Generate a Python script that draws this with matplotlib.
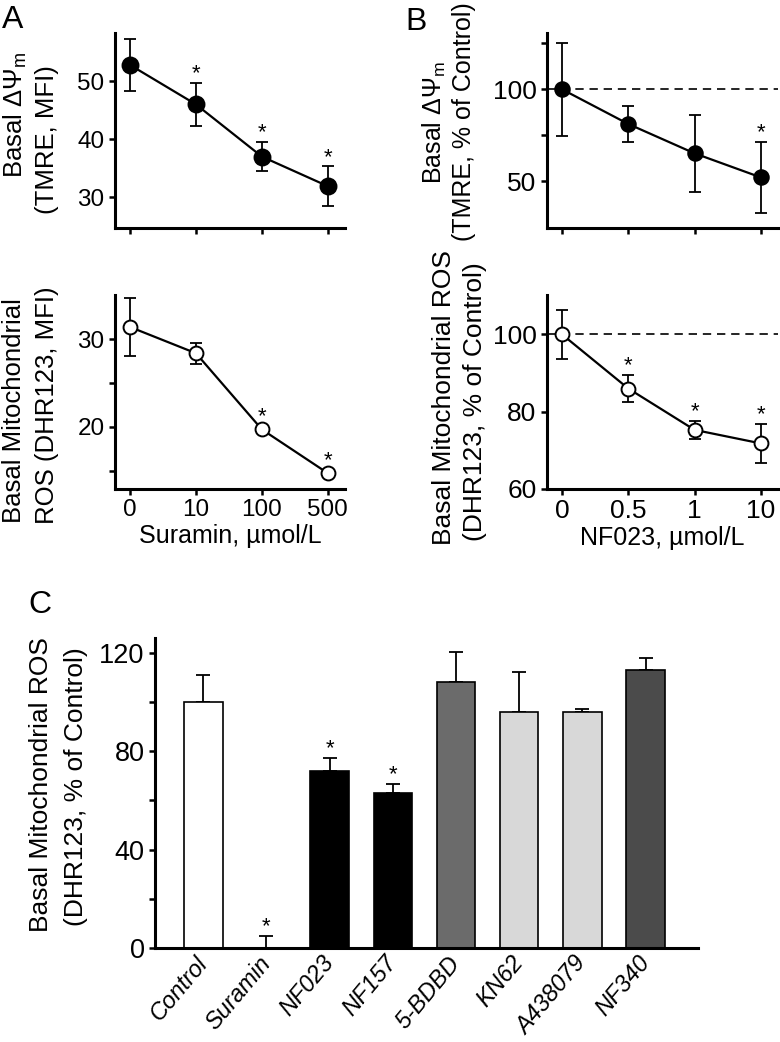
import numpy as np
import matplotlib
matplotlib.use("Agg")
import matplotlib.pyplot as plt

plt.rcParams['font.family'] = ['Liberation Sans', 'DejaVu Sans']
plt.rcParams['mathtext.fontset'] = 'custom'
plt.rcParams['mathtext.rm'] = 'Liberation Sans'
plt.rcParams['mathtext.it'] = 'Liberation Sans:italic'

# Panel A: suramin dose response
suramin_doses = ['0', '10', '100', '500']
a_tmre = [52.8, 46.0, 37.0, 31.9]
a_tmre_err = [4.5, 3.7, 2.5, 3.4]
a_tmre_sig = [False, True, True, True]
a_ros = [31.4, 28.4, 19.7, 14.7]
a_ros_err = [3.3, 1.2, 0.4, 0.4]
a_ros_sig = [False, False, True, True]

# Panel B: NF023 dose response (% of control)
nf023_doses = ['0', '0.5', '1', '10']
b_tmre = [100, 81.1, 65.1, 52.0]
b_tmre_err = [25.5, 10.0, 21.0, 19.4]
b_tmre_sig = [False, False, False, True]
b_ros = [100, 86.0, 75.3, 71.8]
b_ros_err = [6.4, 3.6, 2.4, 5.0]
b_ros_sig = [False, True, True, True]

# Panel C: antagonists
c_labels = ['Control', 'Suramin', 'NF023', 'NF157', '5-BDBD', 'KN62', 'A438079', 'NF340']
c_values = [100, 0, 72.0, 62.9, 108.3, 96.0, 96.0, 112.9]
c_err = [11.0, 5.0, 5.3, 3.8, 12.0, 16.3, 1.4, 5.0]
c_sig = [False, True, True, True, False, False, False, False]
c_colors = ['white', 'white', 'black', 'black', '#6b6b6b', '#d8d8d8', '#d8d8d8', '#4b4b4b']

W, H = 780, 1042
fig = plt.figure(figsize=(W / 100, H / 100), dpi=100)


def px_axes(left, top, right, bottom):
    # axes from pixel box
    return fig.add_axes([left / W, 1 - bottom / H, (right - left) / W, (bottom - top) / H])


def ftext(x, y, s, **kw):
    kw.setdefault('rotation', 90)
    kw.setdefault('ha', 'center')
    kw.setdefault('va', 'center')
    kw.setdefault('fontsize', 18.5)
    fig.text(x / W, 1 - y / H, s, **kw)


def style_axes(ax, labelsize=17.5):
    for s in ['top', 'right']:
        ax.spines[s].set_visible(False)
    for s in ['left', 'bottom']:
        ax.spines[s].set_linewidth(2.2)
    ax.tick_params(direction='out', length=4.5, width=1.8, labelsize=labelsize, pad=3)


def dose_plot(ax, values, errs, sig, filled, ms):
    x = np.arange(len(values))
    ax.errorbar(x, values, yerr=errs, fmt='-', color='black', lw=1.6,
                elinewidth=1.3, capsize=4.5, capthick=1.3, zorder=2)
    ax.plot(x, values, 'o', ms=ms, mfc='black' if filled else 'white',
            mec='black', mew=1.4, zorder=3)
    for xi, v, e, s in zip(x, values, errs, sig):
        if s:
            ax.annotate('*', (xi, v + e), xytext=(0, -1), textcoords='offset points',
                        ha='center', va='bottom', fontsize=16)
    ax.set_xlim(-0.227, 3.26)
    ax.set_xticks(x)


# ---- Panel A ----
ax1 = px_axes(115, 33, 345, 228)
style_axes(ax1)
dose_plot(ax1, a_tmre, a_tmre_err, a_tmre_sig, True, 11.5)
ax1.set_ylim(24.7, 58.3)
ax1.set_yticks([30, 40, 50])
ax1.set_xticklabels([])

ax2 = px_axes(115, 295, 345, 489)
style_axes(ax2)
dose_plot(ax2, a_ros, a_ros_err, a_ros_sig, False, 10)
ax2.set_ylim(12.9, 35.05)
ax2.set_yticks([15, 20, 25, 30])
ax2.set_yticklabels(['', '20', '', '30'])
ax2.set_xticklabels(suramin_doses)
ax2.set_xlabel('Suramin, µmol/L', fontsize=18, labelpad=2)

ftext(15, 115, 'Basal ΔΨ$_\\mathrm{m}$')
ftext(47, 140, '(TMRE, MFI)')
ftext(14, 411, 'Basal Mitochondrial')
ftext(47, 405, 'ROS (DHR123, MFI)')

# ---- Panel B ----
ax3 = px_axes(547, 33, 778, 228)
style_axes(ax3, 19)
ax3.axhline(100, color='black', lw=1.2, ls=(0, (5, 3.5)), zorder=1)
dose_plot(ax3, b_tmre, b_tmre_err, b_tmre_sig, True, 10.5)
ax3.set_ylim(24.4, 130.7)
ax3.set_yticks([50, 75, 100, 125])
ax3.set_yticklabels(['50', '', '100', ''])
ax3.set_xticklabels([])

ax4 = px_axes(547, 295, 778, 489)
style_axes(ax4, 19)
ax4.axhline(100, color='black', lw=1.2, ls=(0, (5, 3.5)), zorder=1)
dose_plot(ax4, b_ros, b_ros_err, b_ros_sig, False, 10)
ax4.set_ylim(60, 110.2)
ax4.set_yticks([60, 80, 100])
ax4.set_xticklabels(nf023_doses)
ax4.set_xlabel('NF023, µmol/L', fontsize=18, labelpad=2)

ftext(434, 123, 'Basal ΔΨ$_\\mathrm{m}$', fontsize=18)
ftext(464, 122, '(TMRE, % of Control)', fontsize=18)
ftext(444, 398, 'Basal Mitochondrial ROS', fontsize=19)
ftext(475, 402, '(DHR123, % of Control)', fontsize=19)

# ---- Panel C ----
ax5 = px_axes(155, 638, 698, 948)
style_axes(ax5, 19.5)
xc = np.arange(len(c_labels))
ax5.bar(xc, c_values, width=0.61, color=c_colors, edgecolor='black', linewidth=1.2, zorder=2)
ax5.errorbar(xc, c_values, yerr=[np.zeros(len(c_values)), c_err], fmt='none', ecolor='black',
             elinewidth=1.3, capsize=5, capthick=1.3, zorder=1)
for xi, v, e, s in zip(xc, c_values, c_err, c_sig):
    if s:
        ax5.annotate('*', (xi, v + e), xytext=(0, -1), textcoords='offset points',
                     ha='center', va='bottom', fontsize=16)
ax5.set_xlim(-0.764, 7.83)
ax5.set_ylim(0, 126.1)
ax5.set_yticks([0, 20, 40, 60, 80, 100, 120])
ax5.set_yticklabels(['0', '', '40', '', '80', '', '120'])
ax5.set_xticks(xc)
ax5.set_xticklabels(c_labels, rotation=50, ha='right', va='center', rotation_mode='anchor',
                    fontstyle='italic', fontsize=17)
ax5.tick_params(axis='x', length=0, pad=8)

ftext(41, 785, 'Basal Mitochondrial ROS', fontsize=19)
ftext(76, 787, '(DHR123, % of Control)', fontsize=19)

# panel letters
ftext(2, 5, 'A', rotation=0, ha='left', va='top', fontsize=23)
ftext(405, 7, 'B', rotation=0, ha='left', va='top', fontsize=23)
ftext(28, 590, 'C', rotation=0, ha='left', va='top', fontsize=23)

fig.savefig('out.png', dpi=100)
